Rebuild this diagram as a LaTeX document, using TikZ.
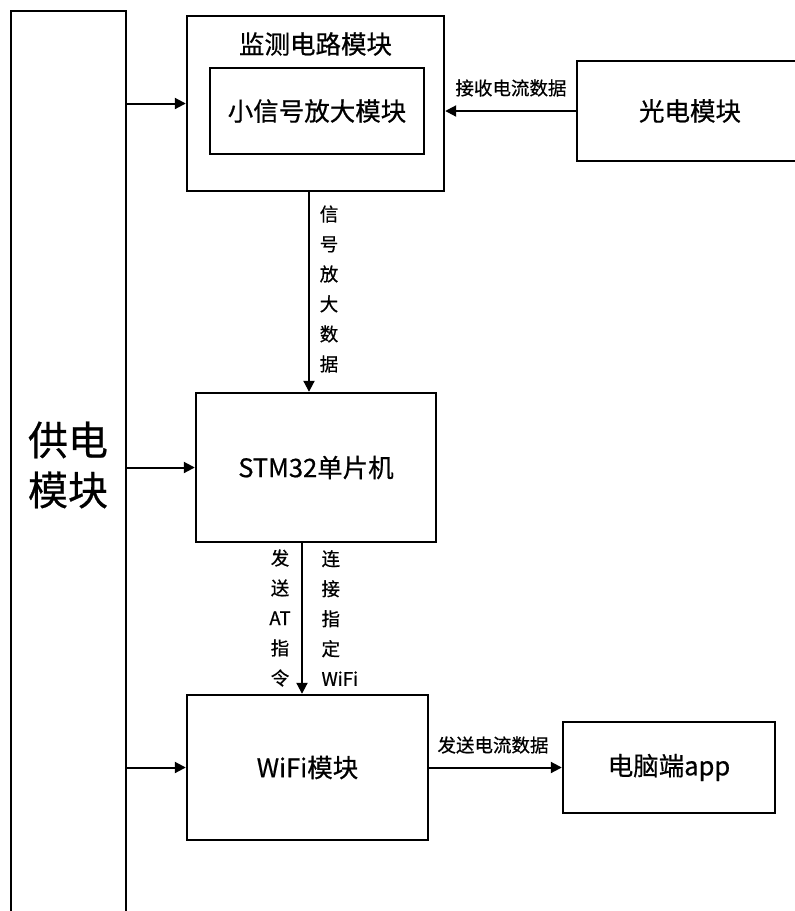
\documentclass[tikz,border=0pt]{standalone}
\usepackage{fontspec}
\setmainfont{Noto Sans CJK SC}[FakeBold=0.6]
\usetikzlibrary{arrows.meta,calc}
\begin{document}
\begin{tikzpicture}[x=1pt,y=-1pt,
 box/.style={draw,line width=2.4pt,inner sep=0pt,rectangle},
 arr/.style={line width=2pt,-{Triangle[length=11pt,width=11pt]}},
 big/.style={font=\fontsize{25.5}{30}\selectfont},
 lab/.style={font=\fontsize{18.5}{30}\selectfont}]
\useasboundingbox (0,0) rectangle (795,911);
\clip (0,0) rectangle (795,911);
\node[box,minimum width=115,minimum height=930] (psu) at (68.5,476) {};
\node[font=\fontsize{40}{50}\selectfont,align=center] (psutext) at (68,465) {供电\\模块};
\node[box,minimum width=257,minimum height=175] (mon) at (315.5,103.5) {};
\node[big] (montitle) at (315.5,44) {监测电路模块};
\node[box,minimum width=214,minimum height=86,big] (amp) at (317,111) {小信号放大模块};
\node[box,minimum width=226,minimum height=100,big] (photo) at (690,111) {光电模块};
\node[box,minimum width=240,minimum height=149,big] (stm) at (316,467.5) {STM32单片机};
\node[box,minimum width=241,minimum height=145,big] (wifi) at (307.5,767.5) {WiFi模块};
\node[box,minimum width=212,minimum height=91,big] (app) at (669,767.5) {电脑端app};
\draw[arr] (psu.east |- mon.west) -- (mon.west);
\draw[arr] (psu.east |- stm.west) -- (stm.west);
\draw[arr] (psu.east |- wifi.west) -- (wifi.west);
\draw[arr] (photo.west) -- (photo.west -| mon.east);
\coordinate (s1) at ($(mon.south)+(-6.5,0)$);
\draw[arr] (s1) -- (s1 |- stm.north);
\coordinate (s2) at ($(stm.south)+(-14,0)$);
\draw[arr] (s2) -- (s2 |- wifi.north);
\draw[arr] (wifi.east) -- (app.west);
\node[lab] (l1) at (511,88) {接收电流数据};
\node[lab,align=center] (l2) at (329,289) {信\\号\\放\\大\\数\\据};
\node[lab,align=center] (l3) at (280,618) {发\\送\\AT\\指\\令};
\node[lab,align=left,anchor=west] (l4) at (318,618) {连\\接\\指\\定\\WiFi};
\node[lab] (l5) at (493,745) {发送电流数据};
\end{tikzpicture}
\end{document}
